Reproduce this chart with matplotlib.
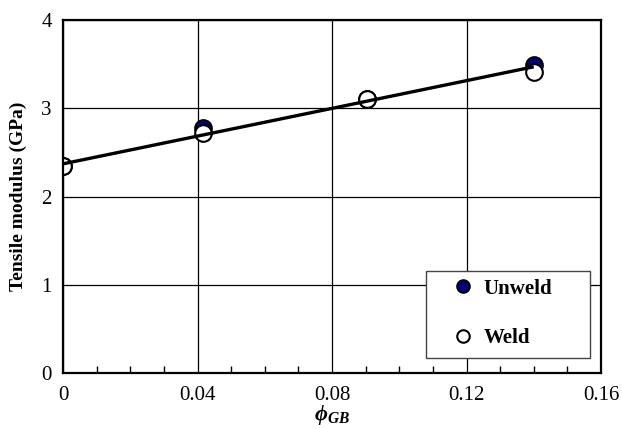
import numpy as np
import matplotlib
matplotlib.use("Agg")
import matplotlib.pyplot as plt
from matplotlib.patches import Rectangle
from matplotlib.ticker import MultipleLocator

plt.rcParams["font.family"] = ["Liberation Serif", "DejaVu Serif"]
plt.rcParams["mathtext.fontset"] = "custom"
plt.rcParams["mathtext.rm"] = "Liberation Serif"
plt.rcParams["mathtext.it"] = "Liberation Serif:italic"
plt.rcParams["mathtext.bf"] = "Liberation Serif:bold"
plt.rcParams["mathtext.bfit"] = "Liberation Serif:italic:bold"

# volume fraction of glass beads and measured tensile modulus
phi_gb = [0.0, 0.0416, 0.0904, 0.14]
modulus_unweld = [2.34, 2.78, 3.10, 3.49]
modulus_weld = [2.34, 2.72, 3.10, 3.41]

# linear fit through both series
fit_x = [0.0, 0.14]
fit_y = [2.37, 3.47]

x_ticks = [0, 0.04, 0.08, 0.12, 0.16]
x_tick_labels = ["0", "0.04", "0.08", "0.12", "0.16"]
y_ticks = [0, 1, 2, 3, 4]

fig = plt.figure(figsize=(6.22, 4.29), dpi=100)
ax = fig.add_axes([63 / 622, 1 - 373 / 429, 538 / 622, 353 / 429])

ax.plot(phi_gb, modulus_unweld, "o", ms=12, mfc="#000080", mec="black", mew=1.5,
        label="Unweld", zorder=3)
ax.plot(phi_gb, modulus_weld, "o", ms=12, mfc="white", mec="black", mew=1.5,
        label="Weld", zorder=3.5)
ax.plot(fit_x, fit_y, color="black", lw=2.4, zorder=4, solid_capstyle="butt")

ax.set_xlim(0, 0.16)
ax.set_ylim(0, 4)
ax.set_xticks(x_ticks)
ax.set_xticklabels(x_tick_labels)
ax.set_yticks(y_ticks)
ax.xaxis.set_minor_locator(MultipleLocator(0.01))
ax.tick_params(which="both", direction="in", labelsize=15, top=False, right=False)
ax.tick_params(which="major", length=0, width=1)
ax.tick_params(axis="x", which="major", pad=9)
ax.tick_params(axis="y", which="major", pad=8)
ax.tick_params(which="minor", length=5, width=1)
ax.grid(True, which="major", color="black", lw=0.9)
ax.set_axisbelow(True)
for sp in ax.spines.values():
    sp.set_linewidth(1.6)
    sp.set_zorder(6)

ax.set_ylabel("Tensile modulus (GPa)", fontsize=14, fontweight="bold", labelpad=10)
ax.set_xlabel(r"$\mathbfit{\phi}_{\mathbfit{GB}}$", fontsize=16, labelpad=-1)

# legend box drawn as a separate white patch, entries placed inside it
ax.add_patch(Rectangle((0.6747, 0.0425), 0.3049, 0.2465, transform=ax.transAxes,
                       facecolor="white", edgecolor="#444444", lw=1.0, zorder=4.5))
ax.legend(loc="center left", bbox_to_anchor=(0.724, 0.169), frameon=False,
          prop={"size": 15, "weight": "bold"}, handlelength=1.0, handletextpad=0.5,
          borderpad=0, borderaxespad=0, labelspacing=1.42, markerscale=0.75)

fig.savefig("out.png", dpi=100)
